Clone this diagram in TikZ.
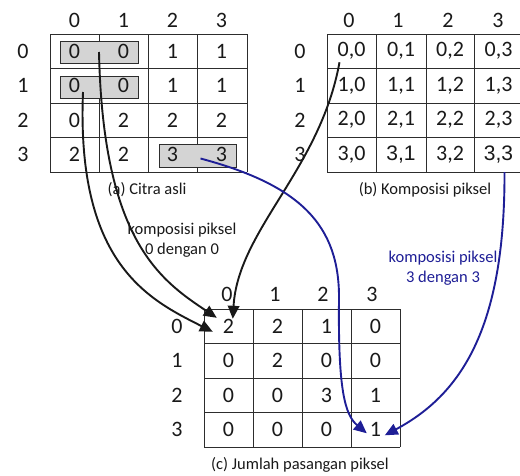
\documentclass[tikz,border=0pt]{standalone}
\usepackage{fontspec}
\setmainfont{Carlito}
\newfontfamily\arialf{Liberation Sans}
\usetikzlibrary{arrows.meta,calc}
\definecolor{boxgray}{RGB}{212,212,212}
\definecolor{gridcol}{RGB}{45,45,45}
\definecolor{navy}{RGB}{30,30,150}
\definecolor{txt}{RGB}{25,25,25}
\begin{document}
\begin{tikzpicture}[x=1pt,y=-1pt,
  gridline/.style={draw=gridcol,line width=0.9pt},
  cell/.style={minimum width=49pt,minimum height=34.5pt,inner sep=0pt,text=txt,font=\fontsize{22}{22}\selectfont},
  hdr/.style={inner sep=0pt,text=txt,font=\fontsize{22}{22}\selectfont},
  captext/.style={inner sep=0pt,text=txt,font=\fontsize{16.5}{19.5}\selectfont,align=center},
  graybox/.style={draw=gridcol,line width=0.9pt,fill=boxgray,inner sep=0pt},
  blackarrow/.style={draw=black!90,line width=1.9pt,-{Triangle[length=13pt,width=11.5pt]}},
  bluearrow/.style={draw=navy,line width=1.9pt,-{Triangle[length=13pt,width=11.5pt]}}]
\useasboundingbox (0,0) rectangle (520,475);

% ---------- grid (a)
\foreach \x in {50,99,148,197,247} \draw[gridline] (\x,34) -- (\x,172);
\foreach \y in {34,68.5,103,137.5,172} \draw[gridline] (50,\y) -- (247,\y);
\node[graybox,minimum width=78pt,minimum height=22pt] (g0) at (99,52) {};
\node[graybox,minimum width=78pt,minimum height=22pt] (g1) at (99,87) {};
\node[graybox,minimum width=77pt,minimum height=23pt] (g3) at (197.5,155.5) {};
\foreach \j/\x in {0/74.5,1/123.5,2/172.5,3/221.5}
  \node[hdr] (ah\j) at (\x,20) {\j};
\foreach \i/\y in {0/51.25,1/85.75,2/120.25,3/154.75}
  \node[hdr] (ar\i) at (23,\y) {\i};
\foreach \i/\y/\va/\vb/\vc/\vd in {0/51.25/0/0/1/1,1/85.75/0/0/1/1,2/120.25/0/2/2/2,3/154.75/2/2/3/3}{
  \node[cell] (a\i0) at (74.5,\y) {\va};
  \node[cell] (a\i1) at (123.5,\y) {\vb};
  \node[cell] (a\i2) at (172.5,\y) {\vc};
  \node[cell] (a\i3) at (221.5,\y) {\vd};
}
\node[captext] (capa) at (147,190) {(a) Citra asli};

% ---------- grid (b)
\foreach \x in {327,376,426,474} \draw[gridline] (\x,34) -- (\x,172);
\foreach \y in {34,68.5,103,137.5,172} \draw[gridline] (327,\y) -- (520,\y);
\foreach \j/\x in {0/349,1/398,2/448,3/498}
  \node[hdr] (bh\j) at (\x,20) {\j};
\foreach \i/\y in {0/51.25,1/85.75,2/120.25,3/154.75}
  \node[hdr] (br\i) at (300,\y) {\i};
\foreach \i/\y in {0/51.25,1/85.75,2/120.25}{
  \node[cell] (b\i0) at (351.5,\y) {\i,0};
  \node[cell] (b\i1) at (401,\y) {\i,1};
  \node[cell] (b\i2) at (450,\y) {\i,2};
  \node[cell] (b\i3) at (498.5,\y) {\i,3};
}
\node[cell] (b30) at (351.5,154.75) {3,0};
\node[cell,font=\arialf\fontsize{21}{21}\selectfont] (b31) at (401,154.75) {3,1};
\node[cell] (b32) at (450,154.75) {3,2};
\node[cell,font=\arialf\fontsize{21}{21}\selectfont] (b33) at (498.5,154.75) {3,3};
\node[captext] (capb) at (425,190) {(b) Komposisi piksel};

% ---------- grid (c)
\foreach \x in {204,253,302,351,400} \draw[gridline] (\x,309) -- (\x,447);
\foreach \y in {309,343.5,378,412.5,447} \draw[gridline] (204,\y) -- (400,\y);
\foreach \j/\x in {0/227,1/275,2/323,3/372}
  \node[hdr] (ch\j) at (\x,294) {\j};
\foreach \i/\y in {0/326.25,1/360.75,2/395.25,3/429.75}
  \node[hdr] (cr\i) at (177,\y) {\i};
\foreach \i/\y/\va/\vb/\vc/\vd in {0/326.25/2/2/1/0,1/360.75/0/2/0/0,2/395.25/0/0/3/1,3/429.75/0/0/0/1}{
  \node[cell] (c\i0) at (228.5,\y) {\va};
  \node[cell] (c\i1) at (277.5,\y) {\vb};
  \node[cell] (c\i2) at (326.5,\y) {\vc};
  \node[cell] (c\i3) at (375.5,\y) {\vd};
}
\node[captext] (capc) at (300,465) {(c) Jumlah pasangan piksel};

% ---------- labels
\node[captext] (lab0) at (182,240) {komposisi piksel\\0 dengan 0};
\node[captext,text=navy] (lab3) at (443,268) {komposisi piksel\\3 dengan 3};

% ---------- connectors
\coordinate (s1) at (g0.center);
\coordinate (s2) at ($(g1.center)+(-16,5)$);
\coordinate (s3) at ($(b00.center)+(-12,11)$);
\coordinate (s4) at ($(g3.center)+(3,3)$);
\coordinate (s5) at ($(b33.south)+(6,0)$);
\coordinate (e1) at ($(c00.north west)+(13,9)$);
\coordinate (e2) at ($(c00.north west)+(9,23)$);
\coordinate (e3) at ($(c00.north west)+(29,10)$);
\coordinate (e4) at ($(c33.north west)+(16,21)$);
\coordinate (e5) at ($(c33.north west)+(34,23)$);
\coordinate (m4) at (339,300);

\draw[blackarrow] (s1) .. controls (103,240) and (160,280) .. (e1);
\draw[blackarrow] (s2) .. controls (76,265) and (150,300) .. (e2);
\draw[blackarrow] (s3) .. controls (320,170) and (238,230) .. (e3);
\draw[bluearrow] (s4) .. controls (300,185) and (340,225) .. (m4)
  .. controls (338,390) and (345,415) .. (e4);
\draw[bluearrow] (s5) .. controls (505,330) and (460,395) .. (e5);
\end{tikzpicture}
\end{document}
